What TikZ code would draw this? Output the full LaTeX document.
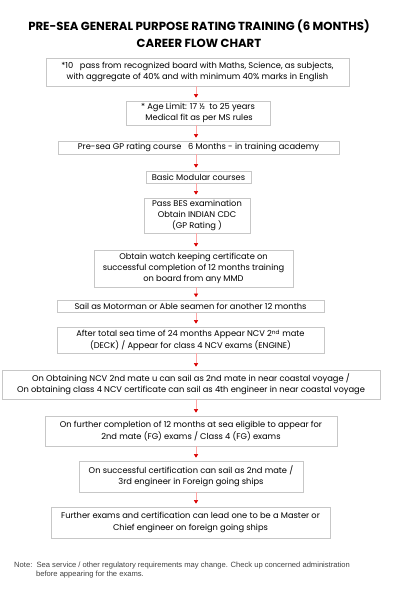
\documentclass[tikz,border=0pt]{standalone}
\usepackage{fontspec}
\setmainfont{Poppins}
\newfontfamily\notefont{Liberation Sans}
\usetikzlibrary{arrows.meta}
\begin{document}
\begin{tikzpicture}[x=1pt,y=-1pt,
  box/.style={draw=black!22, line width=0.7pt, fill=white, align=center, inner sep=0pt, font=\fontsize{8.3}{11.2}\selectfont},
  arr/.style={draw=red!35, line width=0.5pt, shorten >=3pt, -{Triangle[width=4pt,length=3.5pt,color=red!85!black,fill=red!85!black]}}]
\useasboundingbox (0,0) rectangle (400,610);
\node[font=\fontsize{11.7}{16.5}\selectfont\bfseries, align=center] (title) at (199,33.5) {PRE-SEA GENERAL PURPOSE RATING TRAINING (6 MONTHS)\\CAREER FLOW CHART};
\coordinate (ax) at (196,0);
\node[box, minimum width=303, minimum height=28] (b1) at (197.5,72) {*10\ \ \ pass from recognized board with Maths, Science, as subjects,\\with aggregate of 40\% and with minimum 40\% marks in English};
\node[box, minimum width=144, minimum height=24] (b2) at (198,113) {* Age Limit: 17 ½\ \ to 25 years\\\ Medical fit as per MS rules};
\node[box, minimum width=281, minimum height=13] (b3) at (198.5,147.5) {Pre-sea GP rating course\ \ \ 6 Months - in training academy};
\node[box, minimum width=105, minimum height=12] (b4) at (198.5,177) {Basic Modular courses};
\node[box, minimum width=106, minimum height=35] (b5) at (197,215.5) {Pass BES examination\\Obtain INDIAN CDC\\(GP Rating )};
\node[box, minimum width=199, minimum height=37] (b6) at (193.5,268.5) {Obtain watch keeping certificate on\\successful completion of 12 months training\\on board from any MMD};
\node[box, minimum width=267, minimum height=12] (b7) at (190.5,306.5) {Sail as Motorman or Able seamen for another 12 months};
\node[box, minimum width=267, minimum height=26] (b8) at (190.5,340) {After total sea time of 24 months Appear NCV 2\textsuperscript{nd} mate\\(DECK) / Appear for class 4 NCV exams (ENGINE)};
\node[box, minimum width=378, minimum height=29] (b9) at (191,384.5) {On Obtaining NCV 2nd mate u can sail as 2nd mate in near coastal voyage /\\On obtaining class 4 NCV certificate can sail as 4th engineer in near coastal voyage};
\node[box, minimum width=292, minimum height=30] (b10) at (191,431) {On further completion of 12 months at sea eligible to appear for\\2nd mate (FG) exams / Class 4 (FG) exams};
\node[box, minimum width=224, minimum height=31] (b11) at (191,476.5) {On successful certification can sail as 2nd mate /\\3rd engineer in Foreign going ships};
\node[box, minimum width=279, minimum height=31] (b12) at (190.5,522.5) {Further exams and certification can lead one to be a Master or\\Chief engineer on foreign going ships};
\foreach \a/\b in {b1/b2,b2/b3,b3/b4,b4/b5,b5/b6,b6/b7,b7/b8,b8/b9,b9/b10,b10/b11,b11/b12}
  \draw[arr] (\a.south -| ax) -- (\b.north -| ax);
\node[anchor=north west, inner sep=0pt, align=left, font=\notefont\fontsize{7.6}{9}\selectfont, text=black!75] (note) at (14,561.5) {Note:\ \ Sea service / other regulatory requirements may change. Check up concerned administration\\\hspace*{7.7mm}before appearing for the exams.};
\end{tikzpicture}
\end{document}
